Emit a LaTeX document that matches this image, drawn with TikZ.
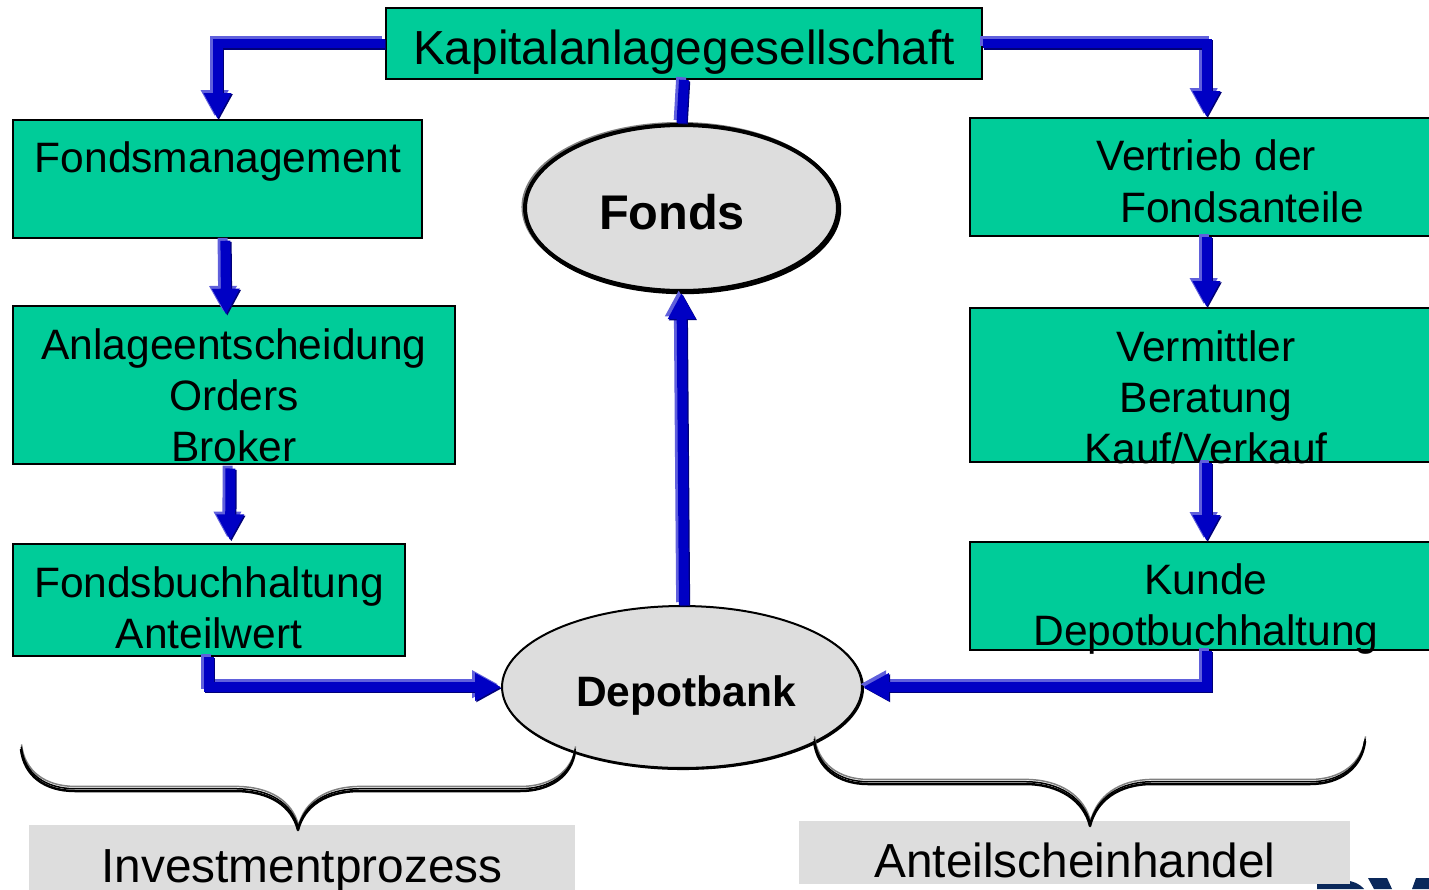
\documentclass[tikz,border=0pt]{standalone}
\usepackage{fontspec}
\setmainfont{Liberation Sans}
\usetikzlibrary{arrows.meta}
\usetikzlibrary{shapes.geometric}
\definecolor{boxgreen}{RGB}{0,204,153}
\definecolor{ovalgray}{RGB}{221,221,221}
\definecolor{arrowblue}{RGB}{0,0,196}
\definecolor{arrowlight}{RGB}{96,96,220}
\definecolor{arrowdark}{RGB}{0,0,120}
\definecolor{logonavy}{RGB}{10,40,90}
\tikzset{
  greenbox/.style={draw=black,line width=0.04cm,fill=boxgreen,inner sep=0pt},
  boxtext/.style={font=\fontsize{24.2}{29}\selectfont,align=center,inner sep=0pt},
  bigtext/.style={font=\fontsize{27.2}{29}\selectfont,align=center,inner sep=0pt},
  oval/.style={ellipse,draw=black,fill=ovalgray,inner sep=0pt},
  graybox/.style={fill=ovalgray,inner sep=0pt},
  flowline/.style={line width=0.2cm},
  flow/.style={flowline,-{Triangle[length=0.52cm,width=0.52cm]}},
  bracket/.style={line width=0.05cm,line join=round},
}
% three layers of one connector: light, dark, main
\newcommand{\flowpath}[2]{%
\begin{scope}[transform canvas={shift={(-1.6pt,1.6pt)}}]\draw[#1,arrowlight] #2;\end{scope}
\begin{scope}[transform canvas={shift={(0.7pt,-0.7pt)}}]\draw[#1,arrowdark] #2;\end{scope}
\draw[#1,arrowblue] #2;}
\newcommand{\bracepath}[1]{%
\begin{scope}[transform canvas={shift={(0.3pt,2.6pt)}}]\draw[bracket,gray,line width=0.03cm] #1;\end{scope}
\begin{scope}[transform canvas={shift={(0.15pt,1.3pt)}}]\draw[bracket,black,line width=0.03cm] #1;\end{scope}
\draw[bracket,black] #1;}
\begin{document}
\begin{tikzpicture}[x=0.02cm,y=-0.02cm]
\useasboundingbox (0,0) rectangle (1429,889);
\begin{scope}
\clip (0,0) rectangle (1429,889);
% logo
\fill[logonavy] (1317,889) -- (1317,882) -- (1340,880) .. controls (1352,880) and (1360,884) .. (1364,889) -- cycle;
\fill[logonavy] (1368,878) -- (1387,878) -- (1392,889) -- (1374,889) -- cycle;
\fill[logonavy] (1416,878) -- (1429,878) -- (1429,889) -- (1412,889) -- cycle;
\node[greenbox,minimum width=11.92cm,minimum height=1.42cm] (kag) at (684,43.5) {};
\node[greenbox,minimum width=8.2cm,minimum height=2.36cm] (fm) at (217.5,179) {};
\node[greenbox,minimum width=8.86cm,minimum height=3.16cm] (ana) at (234,385) {};
\node[greenbox,minimum width=7.86cm,minimum height=2.24cm] (fb) at (209,600) {};
\node[greenbox,minimum width=9.48cm,minimum height=2.36cm] (vf) at (1206.5,177) {};
\node[greenbox,minimum width=9.48cm,minimum height=3.08cm] (verm) at (1206.5,385) {};
\node[greenbox,minimum width=9.48cm,minimum height=2.16cm] (kunde) at (1206.5,596) {};
\node[oval,line width=0.08cm,minimum width=6.26cm,minimum height=3.32cm,
  preaction={draw=gray,line width=0.08cm,transform canvas={shift={(-0.9pt,0.6pt)}}},
  preaction={draw=black,line width=0.08cm,transform canvas={shift={(0.7pt,-0.7pt)}}}] (fonds) at (681.5,208) {};
\node[oval,line width=0.04cm,minimum width=7.2cm,minimum height=3.24cm,
  preaction={draw=black,line width=0.04cm,transform canvas={shift={(0.6pt,-0.6pt)}}}] (depot) at (682,687) {};
\node[graybox,minimum width=10.92cm,minimum height=1.4cm] (ip) at (302,860) {};
\node[graybox,minimum width=11.02cm,minimum height=1.26cm] (ah) at (1074.5,852.5) {};
% connectors
\flowpath{flowline}{(kag.south) -- (fonds.north)}
\flowpath{flow}{([xshift=1.1pt]depot.north) -- (fonds.south)}
\flowpath{flow}{(kag.west) -| (fm.north)}
\flowpath{flow}{(kag.east) -| (vf.north)}
\flowpath{flow}{([xshift=4.5pt,yshift=-1pt]fm.south) -- ([xshift=-4.5pt,yshift=-5.5pt]ana.north)}
\flowpath{flow}{([xshift=-2pt,yshift=-2pt]ana.south) -- ([xshift=12pt,yshift=1.5pt]fb.north)}
\flowpath{flow}{(fb.south) |- (depot.west)}
\flowpath{flow}{(vf.south) -- (verm.north)}
\flowpath{flow}{(verm.south) -- (kunde.north)}
\flowpath{flow}{(kunde.south) |- (depot.east)}
% braces
\bracepath{(21,749) .. controls (24,776) and (45,791) .. (75,791) -- (235,791) .. controls (270,791) and (292,806) .. (298,830) .. controls (304,806) and (326,791) .. (360,791) -- (520,791) .. controls (550,791) and (572,776) .. (575,751)}
\bracepath{(814,741) .. controls (817,768) and (838,784) .. (868,784) -- (1025,784) .. controls (1060,784) and (1084,801) .. (1090,826) .. controls (1096,801) and (1118,784) .. (1152,784) -- (1310,784) .. controls (1340,784) and (1362,768) .. (1365,741)}
% texts
\node[bigtext] (kagtext) at (684,52) {Kapitalanlagegesellschaft};
\node[boxtext] (fmtext) at (218,162) {Fondsmanagement};
\node[boxtext] (anatext) at (234,395) {Anlageentscheidung\\Orders\\Broker};
\node[boxtext] (fbtext) at (209,608) {Fondsbuchhaltung\\Anteilwert};
\node[boxtext] (vftext) at (1206,155) {Vertrieb der};
\node[boxtext] (vftext2) at (1242,207) {Fondsanteile};
\node[boxtext] (vermtext) at (1206,397) {Vermittler\\Beratung\\Kauf/Verkauf};
\node[boxtext] (kundetext) at (1206,609) {Kunde\\Depotbuchhaltung};
\node[font=\fontsize{27.7}{29}\selectfont\bfseries,inner sep=0pt] (fondstext) at (672,212) {Fonds};
\node[font=\fontsize{24.2}{29}\selectfont\bfseries,inner sep=0pt] (depottext) at (686,695) {Depotbank};
\node[bigtext] (iptext) at (302,871) {Investmentprozess};
\node[bigtext] (ahtext) at (1075,860) {Anteilscheinhandel};
\end{scope}
\end{tikzpicture}
\end{document}
